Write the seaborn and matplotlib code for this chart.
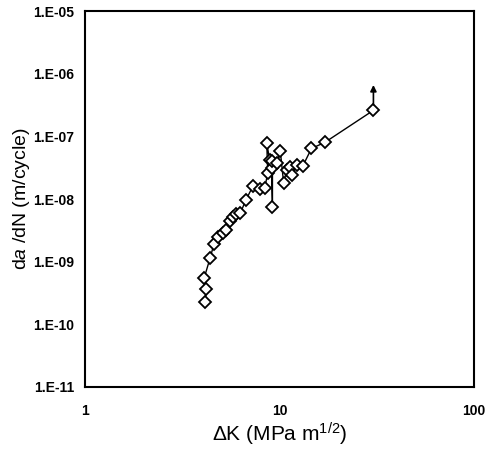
import matplotlib
matplotlib.use("Agg")
import matplotlib.pyplot as plt
import seaborn as sns
import pandas as pd
import numpy as np
from matplotlib.ticker import FixedLocator, NullLocator

# Data
delta_k = [4.15, 4.2, 4.1, 4.4, 4.6, 4.85, 5.1, 5.3, 5.55, 5.8, 6.0, 6.3, 6.7,
           7.3, 7.9, 8.4, 8.7, 8.6, 8.9, 9.1, 9.2, 9.2, 9.7, 10.1, 10.5, 10.9,
           11.3, 11.6, 12.3, 13.2, 14.6, 17.1, 30.4]
dadn = [2.3e-10, 3.6e-10, 5.5e-10, 1.15e-9, 1.9e-9, 2.5e-9, 2.9e-9, 3.2e-9,
        4.5e-9, 5.2e-9, 5.8e-9, 6.0e-9, 9.5e-9, 1.6e-8, 1.45e-8, 1.5e-8,
        2.6e-8, 7.8e-8, 4.2e-8, 3.1e-8, 7.4e-9, 4.0e-8, 3.8e-8, 5.8e-8,
        1.8e-8, 2.9e-8, 3.3e-8, 2.4e-8, 3.5e-8, 3.4e-8, 6.4e-8, 8.0e-8, 2.6e-7]
arrow_tip = 6.6e-7

x_ticks = [1, 10, 100]
x_tick_labels = ["1", "10", "100"]
y_ticks = [1e-11, 1e-10, 1e-9, 1e-8, 1e-7, 1e-6, 1e-5]
y_tick_labels = ["1.E-11", "1.E-10", "1.E-09", "1.E-08", "1.E-07", "1.E-06", "1.E-05"]

sns.set_style("white")
plt.rcParams['font.family'] = ['Liberation Sans', 'DejaVu Sans']
plt.rcParams['mathtext.fontset'] = 'custom'
plt.rcParams['mathtext.rm'] = 'Liberation Sans'
plt.rcParams['mathtext.it'] = 'Liberation Sans:italic'
plt.rcParams['text.color'] = 'black'
plt.rcParams['axes.labelcolor'] = 'black'
plt.rcParams['xtick.color'] = 'black'
plt.rcParams['ytick.color'] = 'black'

df = pd.DataFrame({"dk": delta_k, "rate": dadn})

fig = plt.figure(figsize=(4.87, 4.53), dpi=100)
ax = fig.add_axes([85/487, 1-387/453, (474-85)/487, (387-11)/453])

sns.lineplot(data=df, x="dk", y="rate", sort=False, estimator=None, ax=ax,
             color="black", linewidth=1.0, marker="D", markersize=6.3,
             markerfacecolor="white", markeredgecolor="black", markeredgewidth=1.3)

ax.annotate("", xy=(delta_k[-1], arrow_tip), xytext=(delta_k[-1], dadn[-1]),
            arrowprops=dict(arrowstyle="-|>", color="black", lw=1.2,
                            mutation_scale=9, shrinkA=4, shrinkB=0))

ax.set_xscale("log")
ax.set_yscale("log")
ax.set_xlim(1, 100)
ax.set_ylim(1e-11, 1e-5)
ax.xaxis.set_major_locator(FixedLocator(x_ticks))
ax.set_xticklabels(x_tick_labels)
ax.xaxis.set_minor_locator(NullLocator())
ax.yaxis.set_major_locator(FixedLocator(y_ticks))
ax.set_yticklabels(y_tick_labels)
ax.yaxis.set_minor_locator(NullLocator())

for lab in ax.get_xticklabels() + ax.get_yticklabels():
    lab.set_fontweight("bold")
    lab.set_fontsize(10)
    lab.set_color("black")
ax.tick_params(axis="both", which="major", length=2, width=0.8, color="black",
               labelcolor="black", direction="in")
ax.tick_params(axis="x", pad=12)
ax.tick_params(axis="y", pad=8)

for s in ax.spines.values():
    s.set_color("black")
    s.set_linewidth(1.5)
    s.set_visible(True)

ax.set_xlabel(r"ΔK (MPa m$^{1/2}$)", fontsize=15, color="black")
ax.set_ylabel(r"d$\it{a}$ /dN (m/cycle)", fontsize=14, color="black")
ax.xaxis.set_label_coords(0.5, (387 - 434) / 376, transform=ax.transAxes)
ax.yaxis.set_label_coords((21 - 85) / 389, 0.5, transform=ax.transAxes)
ax.xaxis.label.set_va("center")
ax.yaxis.label.set_va("center")

fig.savefig("out.png", dpi=100, facecolor="white")
